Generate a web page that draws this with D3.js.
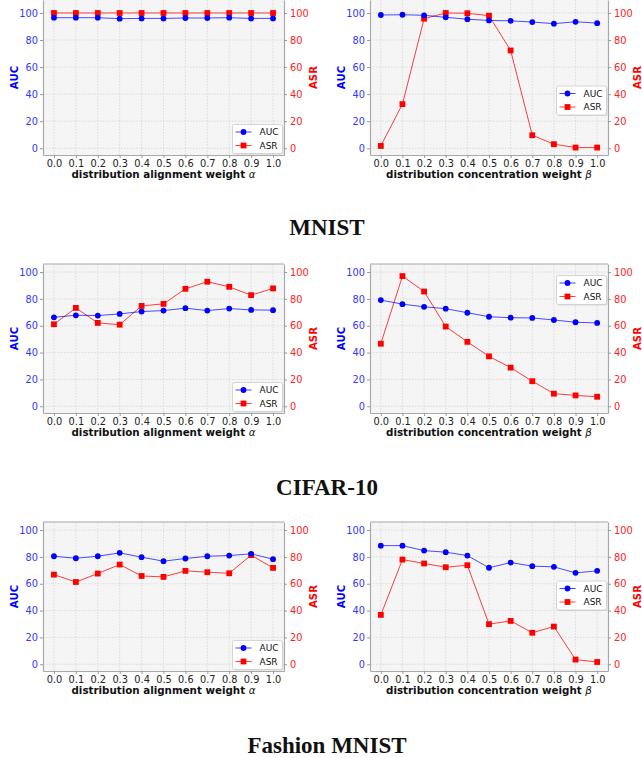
<!DOCTYPE html>
<html>
<head>
<meta charset="utf-8">
<script src="https://cdn.jsdelivr.net/npm/d3@7"></script>
<style>
  body { margin: 0; background: #fff; }
  svg { display: block; font-family: "DejaVu Sans", sans-serif; }
</style>
</head>
<body>
<div id="chart"></div>
<script>
const weights = [0.0, 0.1, 0.2, 0.3, 0.4, 0.5, 0.6, 0.7, 0.8, 0.9, 1.0];
const yTicks = [0, 20, 40, 60, 80, 100];

// MNIST
const mnistAlphaAUC = [96.5, 96.5, 96.5, 95.8, 96.0, 96.0, 96.3, 96.3, 96.5, 96.0, 96.0];
const mnistAlphaASR = [100, 100, 100, 100, 100, 100, 100, 100, 100, 100, 100];
const mnistBetaAUC = [98.5, 98.7, 98.3, 96.8, 95.4, 94.5, 94.2, 93.3, 92.1, 93.5, 92.5];
const mnistBetaASR = [1.7, 32.6, 95.8, 100, 99.8, 98.0, 72.3, 9.6, 3.0, 0.5, 0.5];
// CIFAR-10
const cifarAlphaAUC = [66.3, 67.8, 67.6, 68.8, 70.6, 71.3, 73.1, 71.3, 72.8, 71.8, 71.6];
const cifarAlphaASR = [61.1, 73.3, 62.1, 60.8, 74.8, 76.3, 87.5, 92.8, 89.0, 82.8, 87.8];
const cifarBetaAUC = [79.1, 76.1, 74.1, 72.7, 69.7, 66.7, 66.0, 65.8, 64.3, 62.6, 62.1];
const cifarBetaASR = [46.6, 97.0, 85.5, 59.4, 48.0, 37.2, 28.8, 18.7, 9.4, 8.1, 7.1];
// Fashion MNIST
const fashionAlphaAUC = [80.5, 79.0, 80.5, 83.0, 79.8, 76.8, 78.8, 80.5, 81.0, 82.3, 78.3];
const fashionAlphaASR = [66.8, 61.3, 67.6, 74.3, 65.8, 65.1, 69.6, 68.6, 67.8, 81.3, 71.8];
const fashionBetaAUC = [88.4, 88.4, 84.7, 83.5, 81.0, 71.9, 75.8, 73.1, 72.6, 68.1, 69.6];
const fashionBetaASR = [36.8, 78.0, 75.1, 72.3, 73.8, 29.9, 32.3, 23.5, 28.1, 3.5, 1.7];

const datasetTitles = ['MNIST', 'CIFAR-10', 'Fashion MNIST'];
const xLabels = ['distribution alignment weight ', 'distribution concentration weight '];
const xSymbols = ['α', 'β'];

// legendY: top of legend box inside the plot, null = lower right
const panels = [
  {row: 0, col: 0, auc: mnistAlphaAUC, asr: mnistAlphaASR, legendY: null},
  {row: 0, col: 1, auc: mnistBetaAUC, asr: mnistBetaASR, legendY: 86},
  {row: 1, col: 0, auc: cifarAlphaAUC, asr: cifarAlphaASR, legendY: null},
  {row: 1, col: 1, auc: cifarBetaAUC, asr: cifarBetaASR, legendY: 11.5},
  {row: 2, col: 0, auc: fashionAlphaAUC, asr: fashionAlphaASR, legendY: null},
  {row: 2, col: 1, auc: fashionBetaAUC, asr: fashionBetaASR, legendY: 59}
];

const W = 642, H = 758;
const colX = [43, 370], colW = [241, 238];
// the top row is cut off by the figure edge, so it starts at 0 and shows a bit more range
const rowY = [0, 264, 522], rowH = [155, 149, 149], rowTop = [109.6, 106, 106];
const titleY = [227, 487, 745];
const blueTick = '#3535ff', redTick = '#ff2020';
const tickFont = '9.8px';

const svg = d3.select('#chart').append('svg')
  .attr('width', W).attr('height', H);

panels.forEach(p => {
  const x0 = colX[p.col], y0 = rowY[p.row], w = colW[p.col], plotH = rowH[p.row];
  const g = svg.append('g').attr('transform', `translate(${x0},${y0})`);

  const x = d3.scaleLinear().domain([-0.05, 1.05]).range([0, w]);
  const y = d3.scaleLinear().domain([-5, rowTop[p.row]]).range([plotH, 0]);

  g.append('rect')
    .attr('width', w).attr('height', plotH)
    .attr('fill', '#f5f5f5');

  // grid
  g.selectAll('.vgrid').data(weights).enter().append('line')
    .attr('x1', d => x(d)).attr('x2', d => x(d))
    .attr('y1', 0).attr('y2', plotH)
    .attr('stroke', '#d4d4d4').attr('stroke-width', 0.8)
    .attr('stroke-dasharray', '1.5,1.5');
  g.selectAll('.hgrid').data(yTicks).enter().append('line')
    .attr('x1', 0).attr('x2', w)
    .attr('y1', d => y(d)).attr('y2', d => y(d))
    .attr('stroke', '#d4d4d4').attr('stroke-width', 0.8)
    .attr('stroke-dasharray', '1.5,1.5');

  // axes
  const xAxis = g.append('g')
    .attr('transform', `translate(0,${plotH})`)
    .call(d3.axisBottom(x).tickValues(weights).tickFormat(d3.format('.1f'))
      .tickSize(3).tickSizeOuter(0).tickPadding(2));
  xAxis.selectAll('text').attr('fill', '#222');

  const yLeft = g.append('g')
    .call(d3.axisLeft(y).tickValues(yTicks).tickSize(3).tickSizeOuter(0).tickPadding(2));
  yLeft.selectAll('text').attr('fill', blueTick);

  const yRight = g.append('g')
    .attr('transform', `translate(${w},0)`)
    .call(d3.axisRight(y).tickValues(yTicks).tickSize(3).tickSizeOuter(0).tickPadding(3));
  yRight.selectAll('text').attr('fill', redTick);

  [xAxis, yLeft, yRight].forEach(a => {
    a.attr('font-family', null).attr('font-size', null);
    a.selectAll('text').style('font-family', '"DejaVu Sans"').style('font-size', tickFont);
    a.select('.domain').attr('stroke', '#a8a8a8').attr('stroke-width', 1.2);
    a.selectAll('.tick line').attr('stroke', '#999');
  });
  if (p.row > 0) {
    g.append('line').attr('x1', 0).attr('x2', w).attr('y1', 0).attr('y2', 0)
      .attr('stroke', '#a8a8a8').attr('stroke-width', 1.2);
  }

  // axis titles
  g.append('text')
    .attr('transform', `translate(-29,${plotH / 2}) rotate(-90)`)
    .attr('text-anchor', 'middle').attr('dy', '0.35em')
    .attr('fill', '#0000ff').style('font-weight', 'bold').style('font-size', '10.2px')
    .text('AUC');
  g.append('text')
    .attr('transform', `translate(${w + 29},${plotH / 2}) rotate(-90)`)
    .attr('text-anchor', 'middle').attr('dy', '0.35em')
    .attr('fill', '#ff0000').style('font-weight', 'bold').style('font-size', '10.2px')
    .text('ASR');
  const xl = g.append('text')
    .attr('x', w / 2).attr('y', plotH + 19).attr('dy', '0.35em')
    .attr('text-anchor', 'middle')
    .attr('fill', '#111').style('font-weight', 'bold').style('font-size', '10.3px')
    .text(xLabels[p.col]);
  xl.append('tspan').style('font-style', 'italic').style('font-weight', 'normal')
    .text(xSymbols[p.col]);

  // series
  const line = d3.line().x((d, i) => x(weights[i])).y(d => y(d));
  g.append('path').datum(p.asr)
    .attr('d', line).attr('fill', 'none')
    .attr('stroke', '#ff0000').attr('stroke-opacity', 0.75).attr('stroke-width', 1);
  g.selectAll('.sq').data(p.asr).enter().append('rect')
    .attr('x', (d, i) => x(weights[i]) - 2.9).attr('y', d => y(d) - 2.9)
    .attr('width', 5.8).attr('height', 5.8)
    .attr('fill', '#ff0000');
  g.append('path').datum(p.auc)
    .attr('d', line).attr('fill', 'none')
    .attr('stroke', '#0000ff').attr('stroke-opacity', 0.7).attr('stroke-width', 1);
  g.selectAll('.dot').data(p.auc).enter().append('circle')
    .attr('cx', (d, i) => x(weights[i])).attr('cy', d => y(d))
    .attr('r', 2.9).attr('fill', '#0000ff');

  // legend
  const lw = 50, lh = 29;
  const ly = p.legendY === null ? plotH - lh - 1.5 : p.legendY;
  const lg = g.append('g').attr('transform', `translate(${w - lw - 1.5},${ly})`);
  lg.append('rect').attr('x', 1).attr('y', 1).attr('width', lw).attr('height', lh)
    .attr('rx', 2).attr('fill', '#bbb').attr('opacity', 0.5);
  lg.append('rect').attr('width', lw).attr('height', lh)
    .attr('rx', 2).attr('fill', '#fff').attr('stroke', '#ccc').attr('stroke-width', 0.8);
  const items = [
    {name: 'AUC', color: '#0000ff', shape: 'circle'},
    {name: 'ASR', color: '#ff0000', shape: 'square'}
  ];
  items.forEach((it, i) => {
    const cy = 7.5 + i * 13.5;
    lg.append('line').attr('x1', 3).attr('x2', 19).attr('y1', cy).attr('y2', cy)
      .attr('stroke', it.color).attr('stroke-opacity', 0.75).attr('stroke-width', 1);
    if (it.shape === 'circle') {
      lg.append('circle').attr('cx', 11).attr('cy', cy).attr('r', 2.9).attr('fill', it.color);
    } else {
      lg.append('rect').attr('x', 8.1).attr('y', cy - 2.9).attr('width', 5.8).attr('height', 5.8)
        .attr('fill', it.color);
    }
    lg.append('text').attr('x', 27).attr('y', cy).attr('dy', '0.35em')
      .attr('fill', '#111').style('font-size', '9px').text(it.name);
  });
});

svg.selectAll('.dtitle').data(datasetTitles).enter().append('text')
  .attr('x', 327).attr('y', (d, i) => titleY[i]).attr('dy', '0.35em')
  .attr('text-anchor', 'middle')
  .style('font-family', '"Liberation Serif", serif')
  .style('font-weight', 'bold').style('font-size', '23px')
  .attr('fill', '#111')
  .text(d => d);
</script>
</body>
</html>
